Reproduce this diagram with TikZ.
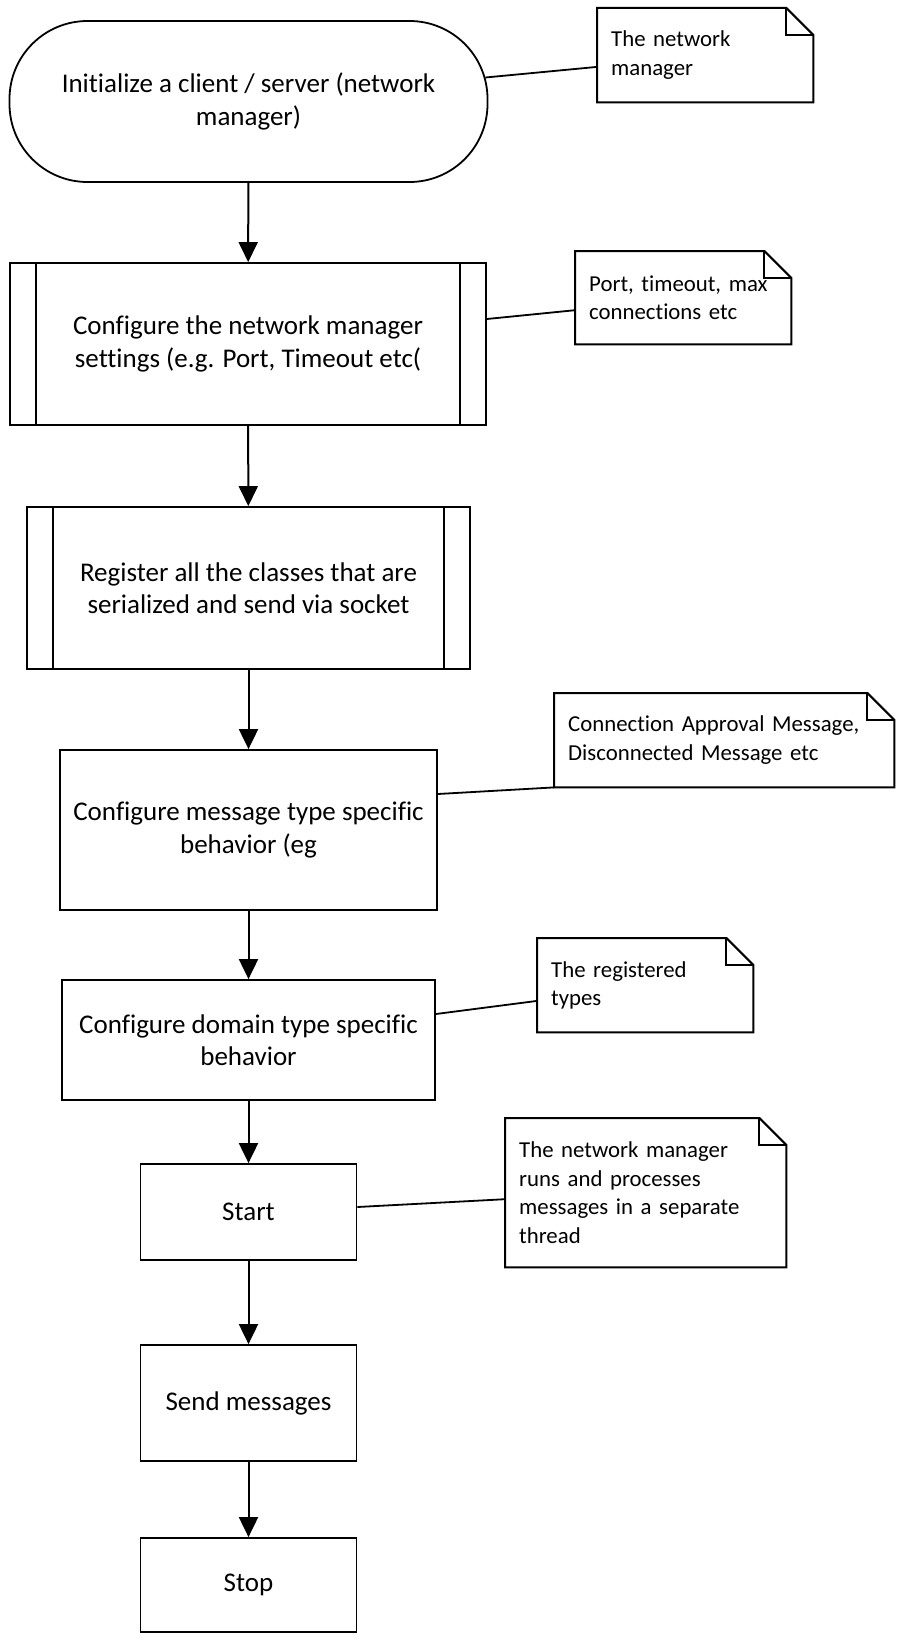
\documentclass[tikz,border=0pt]{standalone}
\usepackage{fontspec}
\setmainfont{Carlito}[Ligatures=NoCommon]
\usetikzlibrary{arrows.meta}
\begin{document}
\begin{tikzpicture}[x=1pt,y=-1pt,
  box/.style={draw, line width=1.8pt, align=center, inner sep=0pt, font=\fontsize{27}{32.5}\selectfont},
  notebox/.style={inner xsep=14pt, inner ysep=0pt, align=left, anchor=north west, font=\fontsize{22.8}{28.5}\selectfont},
  noteline/.style={line width=2pt, line join=miter},
  arr/.style={line width=2pt, -{Triangle[length=20pt,width=19pt]}},
  link/.style={line width=1.8pt},
  inner/.style={line width=1.8pt},
]
\fill[white] (0,0) rectangle (915,1651);
\useasboundingbox (0,0) rectangle (915,1651);

% main flow
\node[box, rounded corners=78pt, minimum width=478pt, minimum height=161pt] (t1) at (248.5,101.5) {Initialize a client / server (network\\manager)};
\node[box, minimum width=476pt, minimum height=162pt] (p2) at (248,344) {Configure the network manager\\settings (e.g. Port, Timeout etc(};
\node[box, minimum width=443pt, minimum height=162pt] (p3) at (248.5,588) {Register all the classes that are\\serialized and send via socket};
\node[box, minimum width=377pt, minimum height=160pt] (b4) at (248.5,830) {Configure message type specific\\behavior (eg};
\node[box, minimum width=373pt, minimum height=120pt] (b5) at (248.5,1040) {Configure domain type specific\\behavior};
\node[box, minimum width=216pt, minimum height=96pt] (b6) at (248.5,1212) {Start};
\node[box, minimum width=216pt, minimum height=116pt] (b7) at (248.5,1403) {Send messages};
\node[box, minimum width=216pt, minimum height=94pt] (b8) at (248.5,1585) {Stop};

\foreach \p in {p2,p3}{
  \draw[inner] ([xshift=27pt]\p.north west) -- ([xshift=27pt]\p.south west);
  \draw[inner] ([xshift=-27pt]\p.north east) -- ([xshift=-27pt]\p.south east);
}

\draw[arr] (t1) -- (p2);
\draw[arr] (p2) -- (p3);
\draw[arr] (p3) -- (b4);
\draw[arr] (b4) -- (b5);
\draw[arr] (b5) -- (b6);
\draw[arr] (b6) -- (b7);
\draw[arr] (b7) -- (b8);

% notes
\node[notebox, minimum width=216pt, text width=188pt, minimum height=94pt] (n1) at (597,8) {The network\\manager};
\node[notebox, minimum width=216pt, text width=188pt, minimum height=93pt] (n2) at (575,251) {Port, timeout, max\\connections etc};
\node[notebox, minimum width=340pt, text width=312pt, minimum height=94pt] (n3) at (554,693) {Connection Approval Message,\\Disconnected Message etc};
\node[notebox, minimum width=216pt, text width=188pt, minimum height=94pt] (n4) at (537,938) {The registered\\types};
\node[notebox, minimum width=281pt, text width=253pt, minimum height=149pt] (n5) at (505,1118) {The network manager\\runs and processes\\messages in a separate\\thread};

\foreach \n in {n1,n2,n3,n4,n5}{
  \draw[noteline] (\n.north west) -- ([xshift=-27pt]\n.north east) -- ([yshift=-27pt]\n.north east) -- (\n.south east) -- (\n.south west) -- cycle;
  \draw[noteline] ([xshift=-27pt]\n.north east) |- ([yshift=-27pt]\n.north east);
}

% note links
\draw[link] ([xshift=-3pt,yshift=24pt]t1.east) -- ([yshift=-11.7pt]n1.west);
\draw[link] ([yshift=25pt]p2.east) -- ([yshift=-12.5pt]n2.west);
\draw[link] ([yshift=36pt]b4.east) -- (n3.south west);
\draw[link] ([yshift=26pt]b5.east) -- ([yshift=-15.7pt]n4.west);
\draw[link] ([yshift=5pt]b6.east) -- ([yshift=-6.5pt]n5.west);
\end{tikzpicture}
\end{document}
